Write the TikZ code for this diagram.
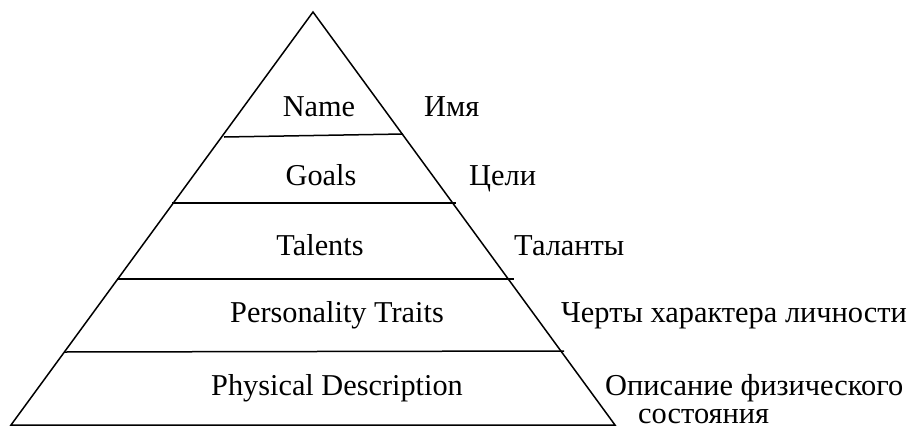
\documentclass[tikz,border=0pt]{standalone}
\usepackage{fontspec}
\setmainfont{Liberation Serif}
\begin{document}
\begin{tikzpicture}[x=1pt,y=-1pt,
  edge/.style={line width=1.5pt, line join=miter},
  lbl/.style={inner sep=0pt, text=black},
  mid/.style={lbl, anchor=base, font=\fontsize{30.3}{34}\selectfont},
  side/.style={lbl, anchor=base west, font=\fontsize{30.4}{28}\selectfont}]
\useasboundingbox (0,0) rectangle (911,429);
% triangle
\coordinate (apex) at (313,12);
\coordinate (bl) at (11,425);
\coordinate (br) at (615,425);
\draw[edge] (apex) -- (bl) -- (br) -- cycle;
% layer lines
\coordinate (l1a) at (224,137); \coordinate (l1b) at (403,134);
\coordinate (l2a) at (172,203); \coordinate (l2b) at (456,203);
\coordinate (l3a) at (117,279); \coordinate (l3b) at (514,279);
\coordinate (l4a) at (64,352);  \coordinate (l4b) at (564,351);
\draw[edge] (l1a) -- (l1b);
\draw[edge] (l2a) -- (l2b);
\draw[edge] (l3a) -- (l3b);
\draw[edge] (l4a) -- (l4b);
% inner labels
\node[mid] (name) at (319,116) {Name};
\node[mid] (goals) at (321,185) {Goals};
\node[mid] (talents) at (320,255) {Talents};
\node[mid] (pers) at (337,322) {Personality Traits};
\node[mid] (phys) at (337,395) {Physical Description};
% side labels
\node[side] (imya) at (424,116) {Имя};
\node[side] (celi) at (469,185) {Цели};
\node[side] (talanty) at (514,255) {Таланты};
\node[side] (cherty) at (561,322) {Черты характера личности};
\node[side, align=left] (opis) at (605,423) {Описание физического\\\hspace*{33pt}состояния};
\end{tikzpicture}
\end{document}
